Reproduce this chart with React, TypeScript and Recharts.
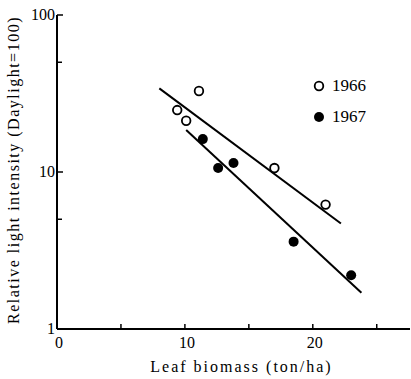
import { ScatterChart, Scatter, XAxis, YAxis, Legend, Label } from 'recharts';

// 1966 (open circles)
const x1966 = [9.4, 10.1, 11.1, 17.0, 21.0];
const y1966 = [24.8, 21.2, 32.8, 10.6, 6.2];
// 1967 (filled circles)
const x1967 = [11.4, 12.6, 13.8, 18.5, 23.0];
const y1967 = [16.2, 10.6, 11.4, 3.6, 2.2];
// regression line end points
const fit1966X = [8.0, 22.2];
const fit1966Y = [34.1, 4.7];
const fit1967X = [10.1, 23.8];
const fit1967Y = [18.5, 1.7];

const xTicks = [0, 5, 10, 15, 20, 25];
const xLabels = [0, 10, 20];
const yTicks = [1, 5, 10, 50, 100];
const yLabels = [1, 10, 100];

const zip = (xs: number[], ys: number[]) => xs.map((x, i) => ({ x, y: ys[i] }));

const FONT = '"Liberation Serif", "DejaVu Serif", serif';
const MARGIN = 6;

const XTick = (props: any) => {
  const { x, y, payload } = props;
  const axisY = y - MARGIN;
  return (
    <g>
      <line x1={x} x2={x} y1={axisY} y2={axisY - 5} stroke="#000" strokeWidth={1.5} />
      {xLabels.includes(payload.value) && (
        <text x={x + 2} y={axisY + 19} textAnchor="middle" fontFamily={FONT} fontSize={16} fill="#000">
          {payload.value}
        </text>
      )}
    </g>
  );
};

const YTick = (props: any) => {
  const { x, y, payload } = props;
  const axisX = x + MARGIN;
  const major = yLabels.includes(payload.value);
  return (
    <g>
      <line x1={axisX} x2={axisX + (major ? 6 : 5)} y1={y} y2={y} stroke="#000" strokeWidth={1.5} />
      {major && (
        <text x={axisX - 2} y={y + 5} textAnchor="end" fontFamily={FONT} fontSize={16} fill="#000">
          {payload.value}
        </text>
      )}
    </g>
  );
};

const OpenDot = (props: any) => (
  <circle cx={props.cx} cy={props.cy} r={4.3} fill="#fff" stroke="#000" strokeWidth={1.8} />
);
const FilledDot = (props: any) => <circle cx={props.cx} cy={props.cy} r={5} fill="#000" />;
const NoDot = () => null;

const LegendBox = () => (
  <div style={{ fontFamily: FONT, fontSize: 17, color: '#000', lineHeight: '31px' }}>
    {[['1966', false], ['1967', true]].map(([name, filled]) => (
      <div key={name as string} style={{ display: 'flex', alignItems: 'center' }}>
        <svg width={14} height={14} style={{ marginRight: 6 }}>
          {filled ? (
            <circle cx={7} cy={7} r={5} fill="#000" />
          ) : (
            <circle cx={7} cy={7} r={4.3} fill="#fff" stroke="#000" strokeWidth={1.8} />
          )}
        </svg>
        {name}
      </div>
    ))}
  </div>
);

export default function App() {
  return (
    <div style={{ position: 'absolute', left: 0, top: 0, background: '#fff' }}>
      <ScatterChart width={411} height={379} margin={{ top: 15, right: 1, left: 0, bottom: 0 }}>
        <XAxis
          type="number"
          dataKey="x"
          domain={[0, 27.6]}
          ticks={xTicks}
          allowDataOverflow
          height={50}
          tickLine={false}
          tickSize={0}
          tickMargin={MARGIN}
          tick={<XTick />}
          axisLine={{ stroke: '#000', strokeWidth: 2 }}
        >
          <Label
            content={(p: any) => (
              <text
                x={p.viewBox.x + p.viewBox.width / 2 + 8}
                y={p.viewBox.y + 43}
                textAnchor="middle"
                fontFamily={FONT}
                fontSize={16}
                letterSpacing={2}
                fill="#000"
              >
                Leaf biomass (ton/ha)
              </text>
            )}
          />
        </XAxis>
        <YAxis
          type="number"
          dataKey="y"
          scale="log"
          domain={[1, 100]}
          ticks={yTicks}
          allowDataOverflow
          width={57}
          tickLine={false}
          tickSize={0}
          tickMargin={MARGIN}
          tick={<YTick />}
          axisLine={{ stroke: '#000', strokeWidth: 2 }}
        >
          <Label
            content={(p: any) => {
              const cx = p.viewBox.x + 13;
              const cy = p.viewBox.y + p.viewBox.height / 2 - 2;
              return (
                <text
                  x={cx}
                  y={cy}
                  transform={`rotate(-90 ${cx} ${cy})`}
                  textAnchor="middle"
                  dominantBaseline="central"
                  fontFamily={FONT}
                  fontSize={16}
                  letterSpacing={1.5}
                  fill="#000"
                >
                  Relative light intensity (Daylight=100)
                </text>
              );
            }}
          />
        </YAxis>
        <Legend
          layout="vertical"
          align="center"
          verticalAlign="middle"
          content={<LegendBox />}
          wrapperStyle={{ position: 'absolute', left: 312, top: 70, width: 80 }}
        />
        <Scatter
          name="fit1966"
          data={zip(fit1966X, fit1966Y)}
          line={{ stroke: '#000', strokeWidth: 2 }}
          shape={<NoDot />}
          legendType="none"
          isAnimationActive={false}
        />
        <Scatter
          name="fit1967"
          data={zip(fit1967X, fit1967Y)}
          line={{ stroke: '#000', strokeWidth: 2 }}
          shape={<NoDot />}
          legendType="none"
          isAnimationActive={false}
        />
        <Scatter name="1966" data={zip(x1966, y1966)} shape={<OpenDot />} isAnimationActive={false} />
        <Scatter name="1967" data={zip(x1967, y1967)} shape={<FilledDot />} isAnimationActive={false} />
      </ScatterChart>
    </div>
  );
}
